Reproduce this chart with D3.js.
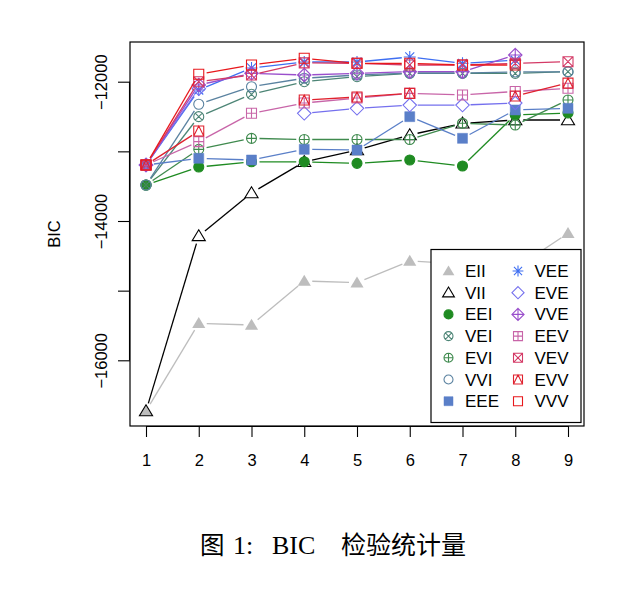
<!DOCTYPE html>
<html><head><meta charset="utf-8">
<script src="https://cdn.jsdelivr.net/npm/d3@7"></script>
<style>
html,body{margin:0;padding:0;background:#fff;}
svg text{font-family:"Liberation Sans",Arial,Helvetica,sans-serif;}
</style></head>
<body>
<svg id="chart" width="644" height="594"></svg>
<script>
// ---- data ----
const ks = [1, 2, 3, 4, 5, 6, 7, 8, 9];
const models = ["EII","VII","EEI","VEI","EVI","VVI","EEE","VEE","EVE","VVE","EEV","VEV","EVV","VVV"];
const EII = [-16728, -15469, -15493, -14861, -14886, -14574, -14620, -14680, -14177];
const VII = [-16728, -14215, -13598, -13150, -12981, -12765, -12597, -12550, -12550];
const EEI = [-13483, -13225, -13150, -13150, -13172, -13124, -13210, -12478, -12450];
const VEI = [-13483, -12502, -12181, -12000, -11928, -11880, -11880, -11880, -11856];
const EVI = [-13483, -12971, -12813, -12830, -12830, -12830, -12597, -12622, -12263];
const VVI = [-13483, -12324, -12072, -11950, -11904, -11875, -11875, -11860, -11860];
const EEE = [-13196, -13100, -13124, -12971, -12981, -12502, -12813, -12406, -12382];
const VEE = [-13196, -12119, -11803, -11717, -11717, -11645, -11736, -11690, null];
const EVE = [-13196, -12100, null, -12454, -12382, -12335, -12335, -12306, null];
const VVE = [-13196, -12047, -11880, -11904, -11879, -11856, -11856, -11617, null];
const EEV = [-13196, -12861, -12454, -12306, -12235, -12167, -12190, -12140, -12095];
const VEV = [-13196, -12000, -11904, -11730, -11736, -11760, -11760, -11736, -11713];
const EVV = [-13196, -12708, null, -12263, -12220, -12167, null, -12205, -12020];
const VVV = [-13196, -11894, -11760, -11664, -11736, -11736, -11760, -11760, null];
const seriesValues = {EII, VII, EEI, VEI, EVI, VVI, EEE, VEE, EVE, VVE, EEV, VEV, EVV, VVV};
const colors = {EII:"#bdbdbd", VII:"#000000", EEI:"#1f8b22", VEI:"#4d8576", EVI:"#3f8a4e", VVI:"#5a82a0",
  EEE:"#5a7fc8", VEE:"#3f6ff2", EVE:"#7570ee", VVE:"#9a4fcc", EEV:"#c865a8", VEV:"#d43a66", EVV:"#e0222f", VVV:"#e8181c"};
const symbols = {EII:"tri_f", VII:"tri_o", EEI:"circ_f", VEI:"circ_x", EVI:"circ_p", VVI:"circ_o", EEE:"sq_f",
  VEE:"star", EVE:"dia_o", VVE:"dia_p", EEV:"sq_p", VEV:"sq_x", EVV:"sq_t", VVV:"sq_o"};
const yTicks = [-12000, -13000, -14000, -15000, -16000];
const yLabelTicks = [-12000, -14000, -16000];
const yTitle = "BIC";
const caption = ["图", "1:", "BIC", "检验统计量"];

// ---- layout ----
const svg = d3.select("#chart");
const box = {l:130, t:42, r:584, b:426};
const x = d3.scaleLinear().domain([1, 9]).range([146, 568]);
const y = d3.scaleLinear().domain([-12000, -16000]).range([81.7, 360.3]);

function symPath(sym, s) {
  const r = s;
  switch (sym) {
    case "tri_f": case "tri_o": {
      const h = s*1.25;
      return `M0,${-h} L${h*1.05},${h*0.75} L${-h*1.05},${h*0.75}Z`;
    }
    case "circ_f": case "circ_o":
      return `M${r},0 A${r},${r} 0 1,1 ${-r},0 A${r},${r} 0 1,1 ${r},0Z`;
    case "circ_x": {
      const d = r*0.7071;
      return `M${r},0 A${r},${r} 0 1,1 ${-r},0 A${r},${r} 0 1,1 ${r},0Z M${-d},${-d} L${d},${d} M${-d},${d} L${d},${-d}`;
    }
    case "circ_p":
      return `M${r},0 A${r},${r} 0 1,1 ${-r},0 A${r},${r} 0 1,1 ${r},0Z M${-r},0 L${r},0 M0,${-r} L0,${r}`;
    case "sq_f": case "sq_o":
      return `M${-s},${-s} L${s},${-s} L${s},${s} L${-s},${s}Z`;
    case "sq_p":
      return `M${-s},${-s} L${s},${-s} L${s},${s} L${-s},${s}Z M${-s},0 L${s},0 M0,${-s} L0,${s}`;
    case "sq_x":
      return `M${-s},${-s} L${s},${-s} L${s},${s} L${-s},${s}Z M${-s},${-s} L${s},${s} M${-s},${s} L${s},${-s}`;
    case "sq_t":
      return `M${-s},${-s} L${s},${-s} L${s},${s} L${-s},${s}Z M${-s},${s} L0,${-s} L${s},${s}`;
    case "star": {
      const d = s*0.9;
      return `M${-s*1.2},0 L${s*1.2},0 M0,${-s*1.2} L0,${s*1.2} M${-d},${-d} L${d},${d} M${-d},${d} L${d},${-d}`;
    }
    case "dia_o": {
      const q = s*1.35;
      return `M0,${-q} L${q},0 L0,${q} L${-q},0Z`;
    }
    case "dia_p": {
      const q = s*1.35;
      return `M0,${-q} L${q},0 L0,${q} L${-q},0Z M${-q},0 L${q},0 M0,${-q} L0,${q}`;
    }
  }
}
const filled = new Set(["tri_f","circ_f","sq_f"]);

function drawMarker(g, sym, col, cx, cy, s) {
  g.append("path").attr("d", symPath(sym, s))
    .attr("transform", `translate(${cx},${cy})`)
    .attr("fill", filled.has(sym) ? col : "none")
    .attr("stroke", sym === "tri_f" ? "none" : col)
    .attr("stroke-width", sym === "sq_f" ? 0.5 : 1.1);
}

// ---- plot ----
const plot = svg.append("g");
const gap = 8;
models.forEach(m => {
  const vals = seriesValues[m];
  const col = colors[m];
  const g = plot.append("g");
  for (let i = 0; i < ks.length - 1; i++) {
    const a = vals[i], b = vals[i+1];
    if (a == null || b == null) continue;
    const x1 = x(ks[i]), y1 = y(a), x2 = x(ks[i+1]), y2 = y(b);
    const L = Math.hypot(x2-x1, y2-y1);
    if (L <= 2*gap) continue;
    const ux = (x2-x1)/L, uy = (y2-y1)/L;
    g.append("line")
      .attr("x1", x1+ux*gap).attr("y1", y1+uy*gap)
      .attr("x2", x2-ux*gap).attr("y2", y2-uy*gap)
      .attr("stroke", col).attr("stroke-width", 1.3);
  }
  vals.forEach((v, i) => {
    if (v == null) return;
    drawMarker(g, symbols[m], col, x(ks[i]), y(v), 5);
  });
});

// box
svg.append("rect").attr("x", box.l).attr("y", box.t)
  .attr("width", box.r-box.l).attr("height", box.b-box.t)
  .attr("fill", "none").attr("stroke", "#000").attr("stroke-width", 1.2);

// x axis
const xAxis = d3.axisBottom(x).tickValues(ks).tickSize(11).tickPadding(17).tickFormat(d3.format("d"));
const gx = svg.append("g").attr("transform", `translate(0,${box.b})`).call(xAxis);
gx.select(".domain").attr("d", `M${x(1)},0.5H${x(9)}`).attr("stroke-width", 1.1);
gx.selectAll("line").attr("stroke-width", 1.1);
gx.selectAll("text").attr("font-size", 16.5).attr("font-family", "Liberation Sans, Arial, sans-serif").attr("fill", "#000");

// y axis
const yAxis = d3.axisLeft(y).tickValues(yTicks).tickSize(12)
  .tickFormat(d => yLabelTicks.includes(d) ? d3.format("d")(d) : "");
const gy = svg.append("g").attr("transform", `translate(${box.l},0)`).call(yAxis);
gy.select(".domain").attr("d", `M-0.5,${y(-12000)}V${y(-16000)}`).attr("stroke-width", 1.1);
gy.selectAll("line").attr("stroke-width", 1.1);
gy.selectAll(".tick text")
  .attr("x", null).attr("dy", null)
  .attr("transform", "translate(-23,0) rotate(-90)")
  .attr("text-anchor", "middle")
  .attr("font-size", 16.5).attr("fill", "#000");

// y title
svg.append("text").attr("transform", `translate(60,${(box.t+box.b)/2}) rotate(-90)`)
  .attr("text-anchor", "middle").attr("font-size", 16.5).text(yTitle);

// legend
const leg = svg.append("g");
leg.append("rect").attr("x", 431).attr("y", 249.5).attr("width", 150).attr("height", 173)
  .attr("fill", "#fff").attr("stroke", "#000").attr("stroke-width", 1.2);
models.forEach((m, i) => {
  const c = Math.floor(i / 7), r = i % 7;
  const sx = 448.5 + c*69.5, ty = 271 + r*21.7;
  drawMarker(leg, symbols[m], colors[m], sx, ty, 4.5);
  leg.append("text").attr("x", sx + 16.5).attr("y", ty + 6).attr("font-size", 17).text(m);
});

// caption
const cap = svg.append("text").attr("y", 554).attr("fill", "#000");
cap.append("tspan").attr("x", 200).attr("font-size", 24.5).attr("font-family", "Noto Sans CJK SC").text(caption[0]);
cap.append("tspan").attr("x", 233).attr("font-size", 26).attr("font-family", "Liberation Serif, serif").text(caption[1]);
cap.append("tspan").attr("x", 272).attr("font-size", 26).attr("font-family", "Liberation Serif, serif").text(caption[2]);
cap.append("tspan").attr("x", 341).attr("font-size", 25).attr("font-family", "Noto Sans CJK SC").text(caption[3]);
</script>
</body></html>
